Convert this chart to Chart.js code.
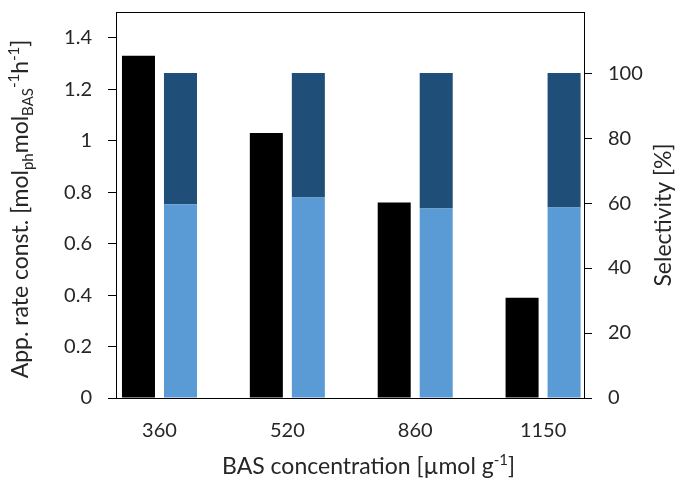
<!DOCTYPE html>
<html>
<head>
<meta charset="utf-8">
<script src="https://cdn.jsdelivr.net/npm/chart.js@4/dist/chart.umd.min.js"></script>
<style>
  html, body { margin: 0; padding: 0; background: #ffffff; }
  #wrap { width: 676px; height: 479px; }
</style>
</head>
<body>
<div id="wrap"><canvas id="c" width="676" height="479"></canvas></div>
<script>
// BAS concentration categories (µmol g-1)
const concentrations = ['360', '520', '860', '1150'];
// apparent rate constant, left axis
const rateConst = [1.33, 1.03, 0.76, 0.39];
// selectivity split, right axis (the two parts add up to 100 %)
const selectivityA = [59.6, 61.7, 58.3, 58.6];
const selectivityB = [40.4, 38.3, 41.7, 41.4];
// tick labels
const rateTicks = [0, 0.2, 0.4, 0.6, 0.8, 1, 1.2, 1.4];
const selectivityTicks = [0, 20, 40, 60, 80, 100];

const FONT = 'Lato';
const TICK_SIZE = 20;
const TITLE_SIZE = 23;
const TEXT = '#262626';
const AXIS = '#000000';

function points(values) {
  return values.map((v, i) => ({ x: i, y: v }));
}

// draws a run of text pieces, some of them sub- or superscript
function drawRich(ctx, parts, cx, cy, angle) {
  const base = TITLE_SIZE + 'px ' + FONT;
  const small = Math.round(TITLE_SIZE * 0.64) + 'px ' + FONT;
  let total = 0;
  const widths = parts.map(p => {
    ctx.font = p.k ? small : base;
    const w = ctx.measureText(p.t).width;
    total += w;
    return w;
  });
  ctx.save();
  ctx.translate(cx, cy);
  ctx.rotate(angle);
  ctx.fillStyle = TEXT;
  ctx.textAlign = 'left';
  ctx.textBaseline = 'alphabetic';
  let x = -total / 2;
  parts.forEach((p, i) => {
    ctx.font = p.k ? small : base;
    const dy = p.k === 'sub' ? TITLE_SIZE * 0.22 : (p.k === 'sup' ? -TITLE_SIZE * 0.40 : 0);
    ctx.fillText(p.t, x, dy);
    x += widths[i];
  });
  ctx.restore();
}

const titlesAndFrame = {
  id: 'titlesAndFrame',
  afterDraw(chart) {
    const ctx = chart.ctx;
    const a = chart.chartArea;
    // top edge of the plot frame
    ctx.save();
    ctx.strokeStyle = AXIS;
    ctx.lineWidth = 1;
    ctx.beginPath();
    ctx.moveTo(a.left, Math.round(a.top) + 0.5);
    ctx.lineTo(a.right + 1, Math.round(a.top) + 0.5);
    ctx.stroke();
    ctx.restore();

    const midY = (a.top + a.bottom) / 2;
    // left axis title
    drawRich(ctx, [
      { t: 'App. rate const. [mol' },
      { t: 'ph', k: 'sub' },
      { t: 'mol' },
      { t: 'BAS', k: 'sub' },
      { t: '-1', k: 'sup' },
      { t: 'h' },
      { t: '-1', k: 'sup' },
      { t: ']' }
    ], a.left - 88, midY + 4, -Math.PI / 2);
    // right axis title
    drawRich(ctx, [{ t: 'Selectivity [%]' }], a.right + 87, midY + 10, -Math.PI / 2);
    // bottom axis title
    drawRich(ctx, [
      { t: 'BAS concentration [µmol g' },
      { t: '-1', k: 'sup' },
      { t: ']' }
    ], a.left + 252.5, a.bottom + 76, 0);
  }
};

// vertical axes: no extra room for half tick labels above the plot
function noVerticalPadding(s) {
  s.paddingTop = 0;
  s.paddingBottom = 0;
}

new Chart(document.getElementById('c'), {
  type: 'bar',
  data: {
    datasets: [
      {
        label: 'rate',
        data: points(rateConst),
        backgroundColor: '#000000',
        yAxisID: 'y',
        stack: 'rate'
      },
      {
        label: 'selectivity A',
        data: points(selectivityA),
        backgroundColor: '#5B9BD5',
        yAxisID: 'y1',
        stack: 'sel'
      },
      {
        label: 'selectivity B',
        data: points(selectivityB),
        backgroundColor: '#1F4E79',
        yAxisID: 'y1',
        stack: 'sel'
      }
    ]
  },
  options: {
    responsive: false,
    animation: false,
    devicePixelRatio: 1,
    categoryPercentage: 0.657,
    barPercentage: 0.786,
    layout: { padding: { top: 12, left: 0, right: 0, bottom: 0 } },
    plugins: {
      legend: { display: false },
      tooltip: { enabled: false }
    },
    scales: {
      x: {
        type: 'linear',
        position: 'bottom',
        min: -0.34,
        max: 3.32,
        offset: false,
        grid: { display: false, drawTicks: false, offset: false },
        border: { display: true, color: AXIS, width: 1 },
        ticks: {
          color: TEXT,
          font: { family: FONT, size: TICK_SIZE },
          padding: 21,
          maxRotation: 0,
          autoSkip: false,
          callback: v => concentrations[v] !== undefined ? concentrations[v] : ''
        },
        afterBuildTicks: s => { s.ticks = concentrations.map((_, i) => ({ value: i })); },
        afterFit: s => { s.height = 81; s.paddingLeft = 0; s.paddingRight = 0; }
      },
      y: {
        position: 'left',
        min: 0,
        max: 1.5,
        grid: { drawOnChartArea: false, drawTicks: true, tickLength: 8, color: AXIS },
        border: { display: true, color: AXIS, width: 1 },
        ticks: {
          color: TEXT,
          font: { family: FONT, size: TICK_SIZE },
          padding: 16,
          callback: v => String(v)
        },
        afterBuildTicks: s => { s.ticks = rateTicks.map(v => ({ value: v })); },
        afterFit: s => { s.width = 116; noVerticalPadding(s); }
      },
      y1: {
        position: 'right',
        min: 0,
        max: 118.8,
        grid: { drawOnChartArea: false, drawTicks: true, tickLength: 8, color: AXIS },
        border: { display: true, color: AXIS, width: 1 },
        ticks: {
          color: TEXT,
          font: { family: FONT, size: TICK_SIZE },
          padding: 16,
          callback: v => String(v)
        },
        afterBuildTicks: s => { s.ticks = selectivityTicks.map(v => ({ value: v })); },
        afterFit: s => { s.width = 92; noVerticalPadding(s); }
      }
    }
  },
  plugins: [titlesAndFrame]
});
</script>
</body>
</html>
